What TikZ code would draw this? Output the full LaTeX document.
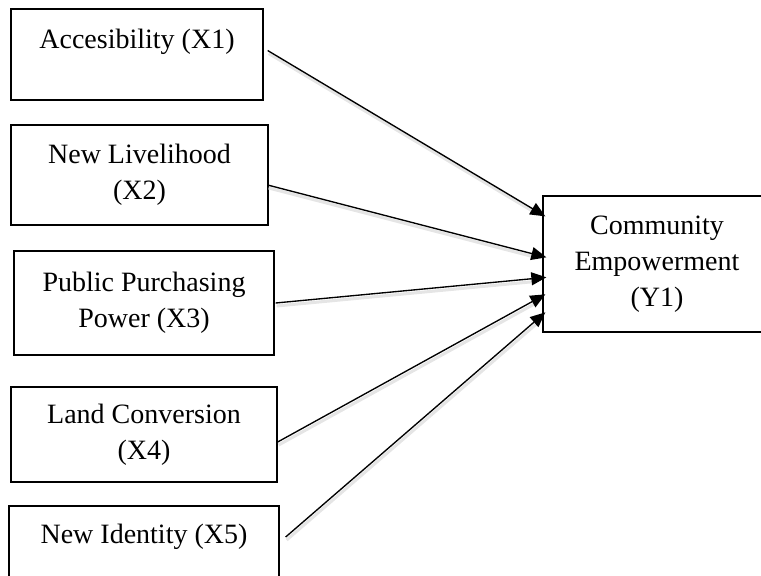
\documentclass[tikz,border=0pt]{standalone}
\usepackage{fontspec}
\setmainfont{Liberation Serif}
\usetikzlibrary{arrows.meta,calc}
\begin{document}
\begin{tikzpicture}[x=1pt,y=-1pt,
  box/.style={draw, line width=1.3pt, inner sep=0pt, align=center,
    font=\fontsize{28}{36}\selectfont},
  arr/.style={line width=1.35pt, -{Triangle[length=15pt,width=13pt]}},
  shadowline/.style={line width=3pt, draw=black!10, shorten >=13pt}
]
\clip (0,0) rectangle (761,576);
\useasboundingbox (0,0) rectangle (761,576);

\node[box, minimum width=252pt, text height=39pt, text depth=52pt] (x1) at (137,54.5) {Accesibility (X1)};
\node[box, minimum width=257pt, minimum height=100pt] (x2) at (139.5,175) {New Livelihood\\(X2)};
\node[box, minimum width=260pt, minimum height=104pt] (x3) at (144,303) {Public Purchasing\\Power (X3)};
\node[box, minimum width=266pt, minimum height=95pt] (x4) at (144,434.5) {Land Conversion\\(X4)};
\node[box, minimum width=270pt, text height=37pt, text depth=54pt] (x5) at (144,551.5) {New Identity (X5)};
\node[box, minimum width=228pt, minimum height=136pt] (y1) at (657,264) {Community\\Empowerment\\(Y1)};

\coordinate (s1) at ($(x1.east)+(4,-4)$);
\coordinate (s2) at ($(x2.east)+(-1,10)$);
\coordinate (s3) at ($(x3.east)+(1,0)$);
\coordinate (s4) at ($(x4.east)+(0,7.5)$);
\coordinate (s5) at ($(x5.east)+(6,-14.5)$);
\coordinate (t1) at ($(y1.north west)+(3,21)$);
\coordinate (t2) at ($(y1.north west)+(4,62)$);
\coordinate (t3) at ($(y1.north west)+(4,82)$);
\coordinate (t4) at ($(y1.north west)+(3,99)$);
\coordinate (t5) at ($(y1.north west)+(3,117)$);

\foreach \i in {1,...,5}{
  \draw[shadowline] ($(s\i)+(1,3)$) -- ($(t\i)+(1,3)$);
}
\foreach \i in {1,...,5}{
  \draw[arr] (s\i) -- (t\i);
}
\end{tikzpicture}
\end{document}
